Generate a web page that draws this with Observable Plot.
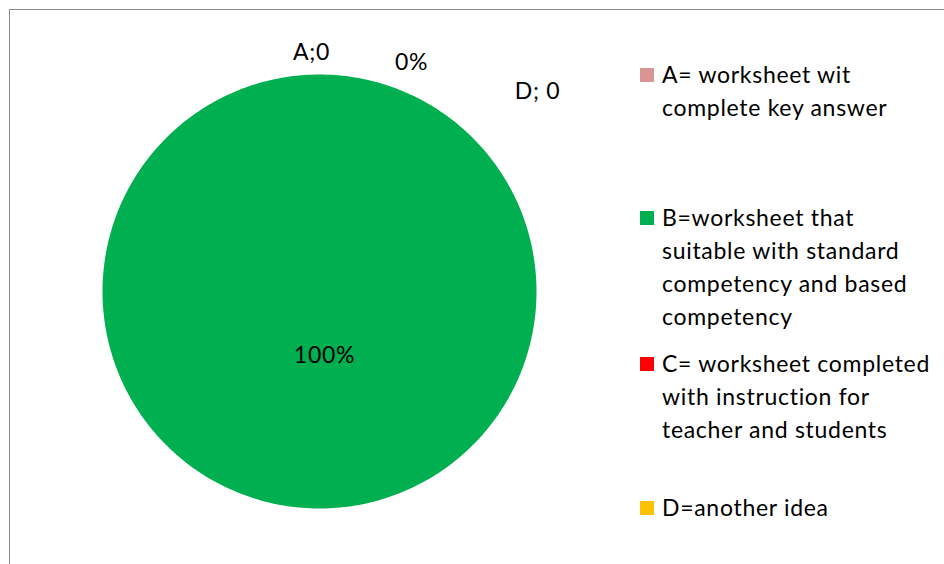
<!DOCTYPE html>
<html><head><meta charset="utf-8">
<script src="https://cdn.jsdelivr.net/npm/d3@7"></script>
<script src="https://cdn.jsdelivr.net/npm/@observablehq/plot@0.6"></script>
<style>
html,body{margin:0;padding:0;background:#fff;overflow:hidden;width:944px;height:564px}
#wrap{position:relative;width:944px;height:564px}
#wrap svg{position:absolute;left:0;top:0}
#border{position:absolute;left:9px;top:9px;width:1200px;height:1200px;border-left:1.5px solid #8a8a8a;border-top:1.5px solid #8a8a8a;box-sizing:border-box;pointer-events:none}
#legend{position:absolute;left:640px;top:0;font-family:Lato,sans-serif;font-size:23px;letter-spacing:0.7px;color:#000}
.item{position:absolute;left:0;white-space:nowrap}
.sw{position:absolute;left:0;width:14px;height:14px}
.lab{position:absolute;left:22px;top:0;line-height:33px;white-space:pre}
</style></head>
<body>
<div id="wrap"><div id="border"></div><div id="legend"></div></div>
<script>
// ---- data ----
const categories = ["A", "B", "C", "D"];
const values = [0, 100, 0, 0];
const colors = ["#D99594", "#00B050", "#FF0000", "#FFC000"];
const dataLabels = ["A;0", "100%", "0%", "D; 0"];
const legendLabels = [
  "A= worksheet wit\ncomplete key answer",
  "B=worksheet that\nsuitable with standard\ncompetency and based\ncompetency",
  "C= worksheet completed\nwith instruction for\nteacher and students",
  "D=another idea"
];

// ---- layout (styles / positions, not data) ----
const labelPos = [[-0.037, 1.10], [0.023, -0.295], [0.424, 1.055], [1.005, 0.92]];
const legendTops = [58, 201, 347, 491];

// pie geometry (clockwise from 12 o'clock)
const arcs = d3.pie().sort(null).value(d => d)(values);
const slices = arcs.map((a, i) => ({cat: categories[i], color: colors[i], a})).filter(s => s.a.endAngle > s.a.startAngle);
const features = slices.map(s => {
  const n = Math.max(2, Math.ceil((s.a.endAngle - s.a.startAngle) / (Math.PI * 2) * 360));
  const ring = [[0, 0]];
  for (let k = 0; k <= n; k++) {
    const t = s.a.startAngle + (s.a.endAngle - s.a.startAngle) * k / n;
    ring.push([Math.sin(t), Math.cos(t)]);
  }
  ring.push([0, 0]);
  return {type: "Feature", properties: {cat: s.cat, color: s.color}, geometry: {type: "Polygon", coordinates: [ring]}};
});

const labels = categories.map((c, i) => ({cat: c, text: dataLabels[i], x: labelPos[i][0], y: labelPos[i][1]}));

const chart = Plot.plot({
  width: 944,
  height: 564,
  marginLeft: 102,
  marginRight: 408,
  marginTop: 74,
  marginBottom: 56,
  projection: {type: "reflect-y", clip: false, domain: {type: "MultiPoint", coordinates: [[-1, -1], [1, 1]]}},
  style: {fontFamily: "Lato, sans-serif", background: "transparent", overflow: "visible", letterSpacing: "0.7px"},
  marks: [
    Plot.geo(features, {fill: d => d.properties.color, stroke: "none"}),
    Plot.text(labels, {x: "x", y: "y", text: "text", fontSize: 23, fill: "#000", textAnchor: "middle", clip: false})
  ]
});
document.getElementById("wrap").appendChild(chart);

const legend = document.getElementById("legend");
categories.forEach((c, i) => {
  const item = document.createElement("div");
  item.className = "item";
  item.style.top = legendTops[i] + "px";
  const sw = document.createElement("div");
  sw.className = "sw";
  sw.style.background = colors[i];
  sw.style.top = "9.5px";
  const lab = document.createElement("div");
  lab.className = "lab";
  lab.textContent = legendLabels[i];
  item.appendChild(sw);
  item.appendChild(lab);
  legend.appendChild(item);
});
</script>
</body></html>
